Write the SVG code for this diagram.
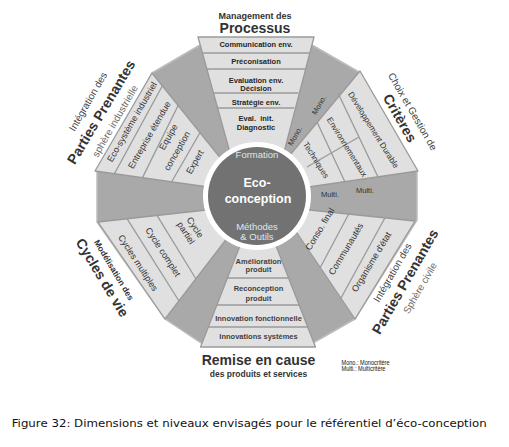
<svg xmlns="http://www.w3.org/2000/svg" width="509" height="447" viewBox="0 0 509 447">
<style>
text{font-family:"Liberation Sans",Arial,sans-serif;text-anchor:middle}
.dark{fill:#a9a9a9;stroke:#bdbdbd;stroke-width:1.5;stroke-linejoin:round}
.light{fill:#e0e0e0;stroke:#9a9a9a;stroke-width:1.3;stroke-linejoin:round}
.sep{stroke:#9a9a9a;stroke-width:1.3;fill:none}
.nb{font-size:7.5px;font-weight:bold;fill:#262626}
.sb{font-size:7.5px;font-weight:bold;fill:#404040}
.band{font-size:9px;fill:#333}
.ne{font-size:8.2px;fill:#333}
.small{font-size:7.5px;fill:#333}
.big{font-size:14px;font-weight:bold;fill:#333}
.thin{font-size:10px;fill:#444}
.grey{font-size:10px;fill:#6a6a6a}
.circ{font-size:9.5px;fill:#dfe6ee}
.eco{font-size:12.5px;font-weight:bold;fill:#fff}
.leg{font-size:7px;fill:#111;text-anchor:start}
</style>
<rect width="509" height="447" fill="#fff"/>
<g id="background"><polygon class="dark" points="200,45 312,45 359,72 417,172 417,220 355,319 313,343 201,343 165,319 97,222 97,172 152,73"/></g>
<g id="connectors"/>
<g id="processus">
<polygon class="light" points="198,37 314,37 282,160 232,160"/>
<path class="sep" d="M202.5,53H309.5M207,69H305M213.7,93H298.3M217.9,108H294.1"/>
<text class="nb" x="256" y="47">Communication env.</text>
<text class="nb" x="256" y="64">Préconisation</text>
<text class="nb" x="256" y="82.5">Evaluation env.</text>
<text class="nb" x="256" y="90.5">Décision</text>
<text class="nb" x="256" y="105">Stratégie env.</text>
<text class="nb" x="256" y="121">Eval.&#160; init.</text>
<text class="nb" x="256" y="130">Diagnostic</text>
<text x="255" y="19" font-size="9" font-weight="bold" fill="#333">Management des</text>
<text class="big" x="255" y="33">Processus</text>
</g>
<g id="mono">
<text class="small" transform="translate(295,136) rotate(-60)" y="2.6">Mono.</text>
<text class="small" transform="translate(319,105) rotate(-60)" y="2.6">Mono.</text>
</g>
<g id="criteres">
<polygon class="light" points="360,71 418,171 295,189 290,155"/>
<path class="sep" d="M338,93L378,177M317,122L345,182M307,167L359,137"/>
<text class="ne" transform="translate(373.5,130) rotate(58)" y="2.8">Développement Durable</text>
<text class="ne" transform="translate(347,147) rotate(58)" y="2.8">Environnementaux</text>
<text class="ne" transform="translate(316,160) rotate(58)" y="2.8">Techniques</text>
<text class="thin" font-size="9.5" transform="translate(412.5,111.5) rotate(60)" y="3.3">Choix et Gestion de</text>
<text class="big" transform="translate(400,118) rotate(60)" y="5">Critères</text>
</g>
<g id="multi">
<text class="small" x="330" y="197">Multi.</text>
<text class="small" x="365" y="193">Multi.</text>
</g>
<g id="civile">
<polygon class="light" points="415,221 355,319 295,230 300,209"/>
<path class="sep" d="M349,213.5L320,268M385,217.7L341,298"/>
<text class="band" transform="translate(320,229) rotate(-59)" y="3">Conso. final</text>
<text class="band" transform="translate(346,249) rotate(-59)" y="3">Communautés</text>
<text class="band" transform="translate(371.5,262) rotate(-59)" y="3">Organisme d'état</text>
<text class="thin" transform="translate(392.5,272.5) rotate(-60)" y="3.5">Intégration des</text>
<text class="big" transform="translate(405,281.5) rotate(-60)" y="5">Parties Prenantes</text>
<text class="grey" transform="translate(420,288) rotate(-60)" y="3.5">Sphère civile</text>
</g>
<g id="remise">
<polygon class="light" points="200.5,347 315.5,347 271.8,235 244.2,235"/>
<path class="sep" d="M227.4,278H288.6M216.9,305H299.1M208.3,327H307.7"/>
<text class="sb" x="258.5" y="263.5">Amélioration</text>
<text class="sb" x="258.5" y="272">produit</text>
<text class="sb" x="258.5" y="291">Reconception</text>
<text class="sb" x="258.5" y="300.5">produit</text>
<text class="sb" x="258.5" y="321">Innovation fonctionnelle</text>
<text class="sb" x="258.5" y="338.5">Innovations systèmes</text>
<text class="big" x="258.5" y="365">Remise en cause</text>
<text x="258.5" y="376.5" font-size="8.5" font-weight="bold" fill="#333">des produits et services</text>
</g>
<g id="cycles">
<polygon class="light" points="98,222 165,319 228,237 215,209"/>
<path class="sep" d="M127,218.7L179,301M157,215.3L196,279"/>
<text class="band" transform="translate(138,263) rotate(57)" y="3">Cycles multiples</text>
<text class="band" transform="translate(163,252) rotate(57)" y="3">Cycle complet</text>
<text class="band" transform="translate(195,227.3) rotate(57)" y="3">Cycle</text>
<text class="band" transform="translate(186,233) rotate(57)" y="3">partiel</text>
<text transform="translate(114,270) rotate(59)" y="3" font-size="8.5" font-weight="bold" fill="#333">Modélisation des</text>
<text class="big" transform="translate(102.5,277.5) rotate(59)" y="5">Cycles de vie</text>
</g>
<g id="industrielle">
<polygon class="light" points="152,73 95,171 215,188 222,160"/>
<path class="sep" d="M162.4,85.8L114.4,173.7M178.2,105.3L142.5,177.6M200.2,132.3L171.7,181.7"/>
<text class="band" transform="translate(132,122) rotate(-60)" y="3">Eco-système industriel</text>
<text class="band" transform="translate(149.5,135) rotate(-60)" y="3">Entreprise étendue</text>
<text class="band" transform="translate(168.5,137) rotate(-60)" y="3">Equipe</text>
<text class="band" transform="translate(177,151) rotate(-60)" y="3">conception</text>
<text class="band" transform="translate(195,162) rotate(-60)" y="3">Expert</text>
<text class="thin" transform="translate(88,101.5) rotate(-60)" y="3.5">Intégration des</text>
<text class="big" transform="translate(101,112) rotate(-59)" y="5">Parties Prenantes</text>
<text class="grey" transform="translate(115,121) rotate(-60)" y="3.5">sphère industrielle</text>
</g>
<g id="center">
<circle cx="257" cy="196" r="54" fill="#fff"/>
<circle cx="257" cy="196" r="49" fill="#727272"/>
<text class="circ" x="257" y="158">Formation</text>
<text class="eco" x="257" y="187">Eco-</text>
<text class="eco" x="258" y="203">conception</text>
<text class="circ" x="257" y="230">Méthodes</text>
<text class="circ" x="257" y="240">&amp; Outils</text>
</g>
<g id="legend">
<text class="leg" x="341.5" y="364.5" textLength="48" lengthAdjust="spacingAndGlyphs">Mono.: Monocritère</text>
<text class="leg" x="341.5" y="371" textLength="44" lengthAdjust="spacingAndGlyphs">Multi.: Multicritère</text>
</g>
<g id="caption">
<text x="11.7" y="427" style="text-anchor:start;font-family:'DejaVu Sans',Verdana,sans-serif" font-size="10.5" fill="#111" textLength="475" lengthAdjust="spacingAndGlyphs">Figure 32: Dimensions et niveaux envisagés pour le référentiel d’éco-conception</text>
</g>
</svg>
